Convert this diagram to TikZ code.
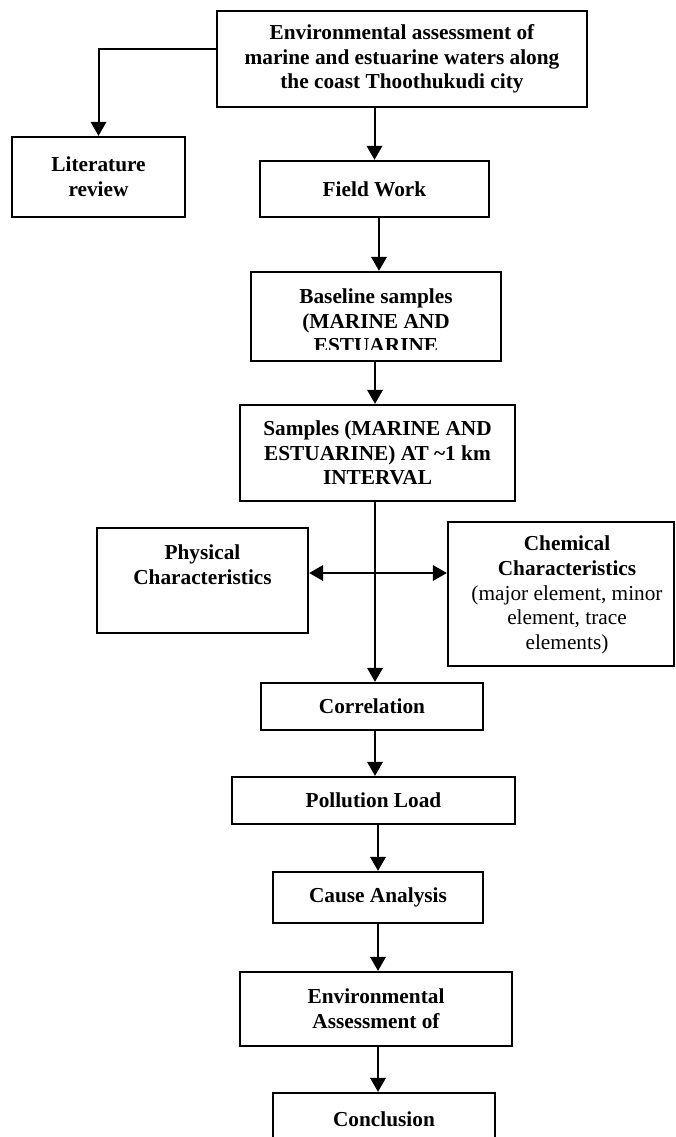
\documentclass[tikz,border=0pt]{standalone}
\usepackage{fontspec}
\setmainfont{Liberation Serif}
\usetikzlibrary{arrows.meta,calc}
\begin{document}
\begin{tikzpicture}[x=1pt,y=-1pt,
  box/.style={draw, line width=2.3pt, inner sep=0pt, align=center, font=\fontsize{21.3}{24.6}\selectfont\bfseries},
  txt/.style={inner sep=0pt, align=center, font=\fontsize{21.3}{24.6}\selectfont\bfseries},
  txtr/.style={inner sep=0pt, align=center, font=\fontsize{21.3}{24.6}\selectfont},
  tip/.tip={Triangle[width=15.5pt,length=14pt]},
  arr/.style={line width=2pt, -tip},
  dbl/.style={line width=2pt, tip-tip}]
\useasboundingbox (0,0) rectangle (675,1137);

\node[box, minimum width=370, minimum height=96] (top) at (402,59) {Environmental assessment of\\marine and estuarine waters along\\the coast Thoothukudi city};
\node[box, minimum width=173, minimum height=80] (lit) at (98.5,177) {Literature\\review};
\node[box, minimum width=229, minimum height=56] (field) at (374.5,189) {Field Work};
\node[box, minimum width=250, minimum height=89] (base) at (376,316.5) {};
\begin{scope}
  \clip (252,273) rectangle (500,349);
  \node[txt] (baset) at (376,321) {Baseline samples\\(MARINE AND\\ESTUARINE};
\end{scope}
\node[box, minimum width=275, minimum height=96] (samp) at (377.5,453) {Samples (MARINE AND\\ESTUARINE) AT \textasciitilde1 km\\INTERVAL};
\node[box, minimum width=211, minimum height=105] (phys) at (202.5,580.5) {};
\node[txt] (physt) at (202.5,564.5) {Physical\\Characteristics};
\node[box, minimum width=226, minimum height=144] (chem) at (561,594) {};
\node[txtr] (chemt) at (567,595) {\textbf{Chemical}\\\textbf{Characteristics}\\(major element, minor\\element, trace\\elements)};
\node[box, minimum width=222, minimum height=47] (corr) at (372,706.5) {Correlation};
\node[box, minimum width=283, minimum height=47] (poll) at (373.5,800.5) {Pollution Load};
\node[box, minimum width=210, minimum height=51] (cause) at (378,897.5) {Cause Analysis};
\node[box, minimum width=272, minimum height=74] (env) at (376,1009) {Environmental\\Assessment of};
\node[box, minimum width=222, minimum height=52] (concl) at (384,1119) {Conclusion};

\coordinate (tl) at (217,49);
\coordinate (j) at (375,573);
\draw[arr] (tl) -| (lit.north);
\draw[arr] (top.south -| field.north) -- (field.north);
\draw[arr] ([xshift=4.5pt]field.south) -- ([xshift=4.5pt]field.south |- base.north);
\draw[arr] ([xshift=-1pt]base.south) -- ([xshift=-1pt]base.south |- samp.north);
\draw[arr] ([xshift=-2.5pt]samp.south) -- ([xshift=-2.5pt]samp.south |- corr.north);
\draw[dbl] (j -| phys.east) -- (j -| chem.west);
\draw[arr] ([xshift=3pt]corr.south) -- ([xshift=3pt]corr.south |- poll.north);
\draw[arr] (cause.north |- poll.south) -- (cause.north);
\draw[arr] (cause.south) -- (cause.south |- env.north);
\draw[arr] ([xshift=2pt]env.south) -- ([xshift=2pt]env.south |- concl.north);
\end{tikzpicture}
\end{document}
